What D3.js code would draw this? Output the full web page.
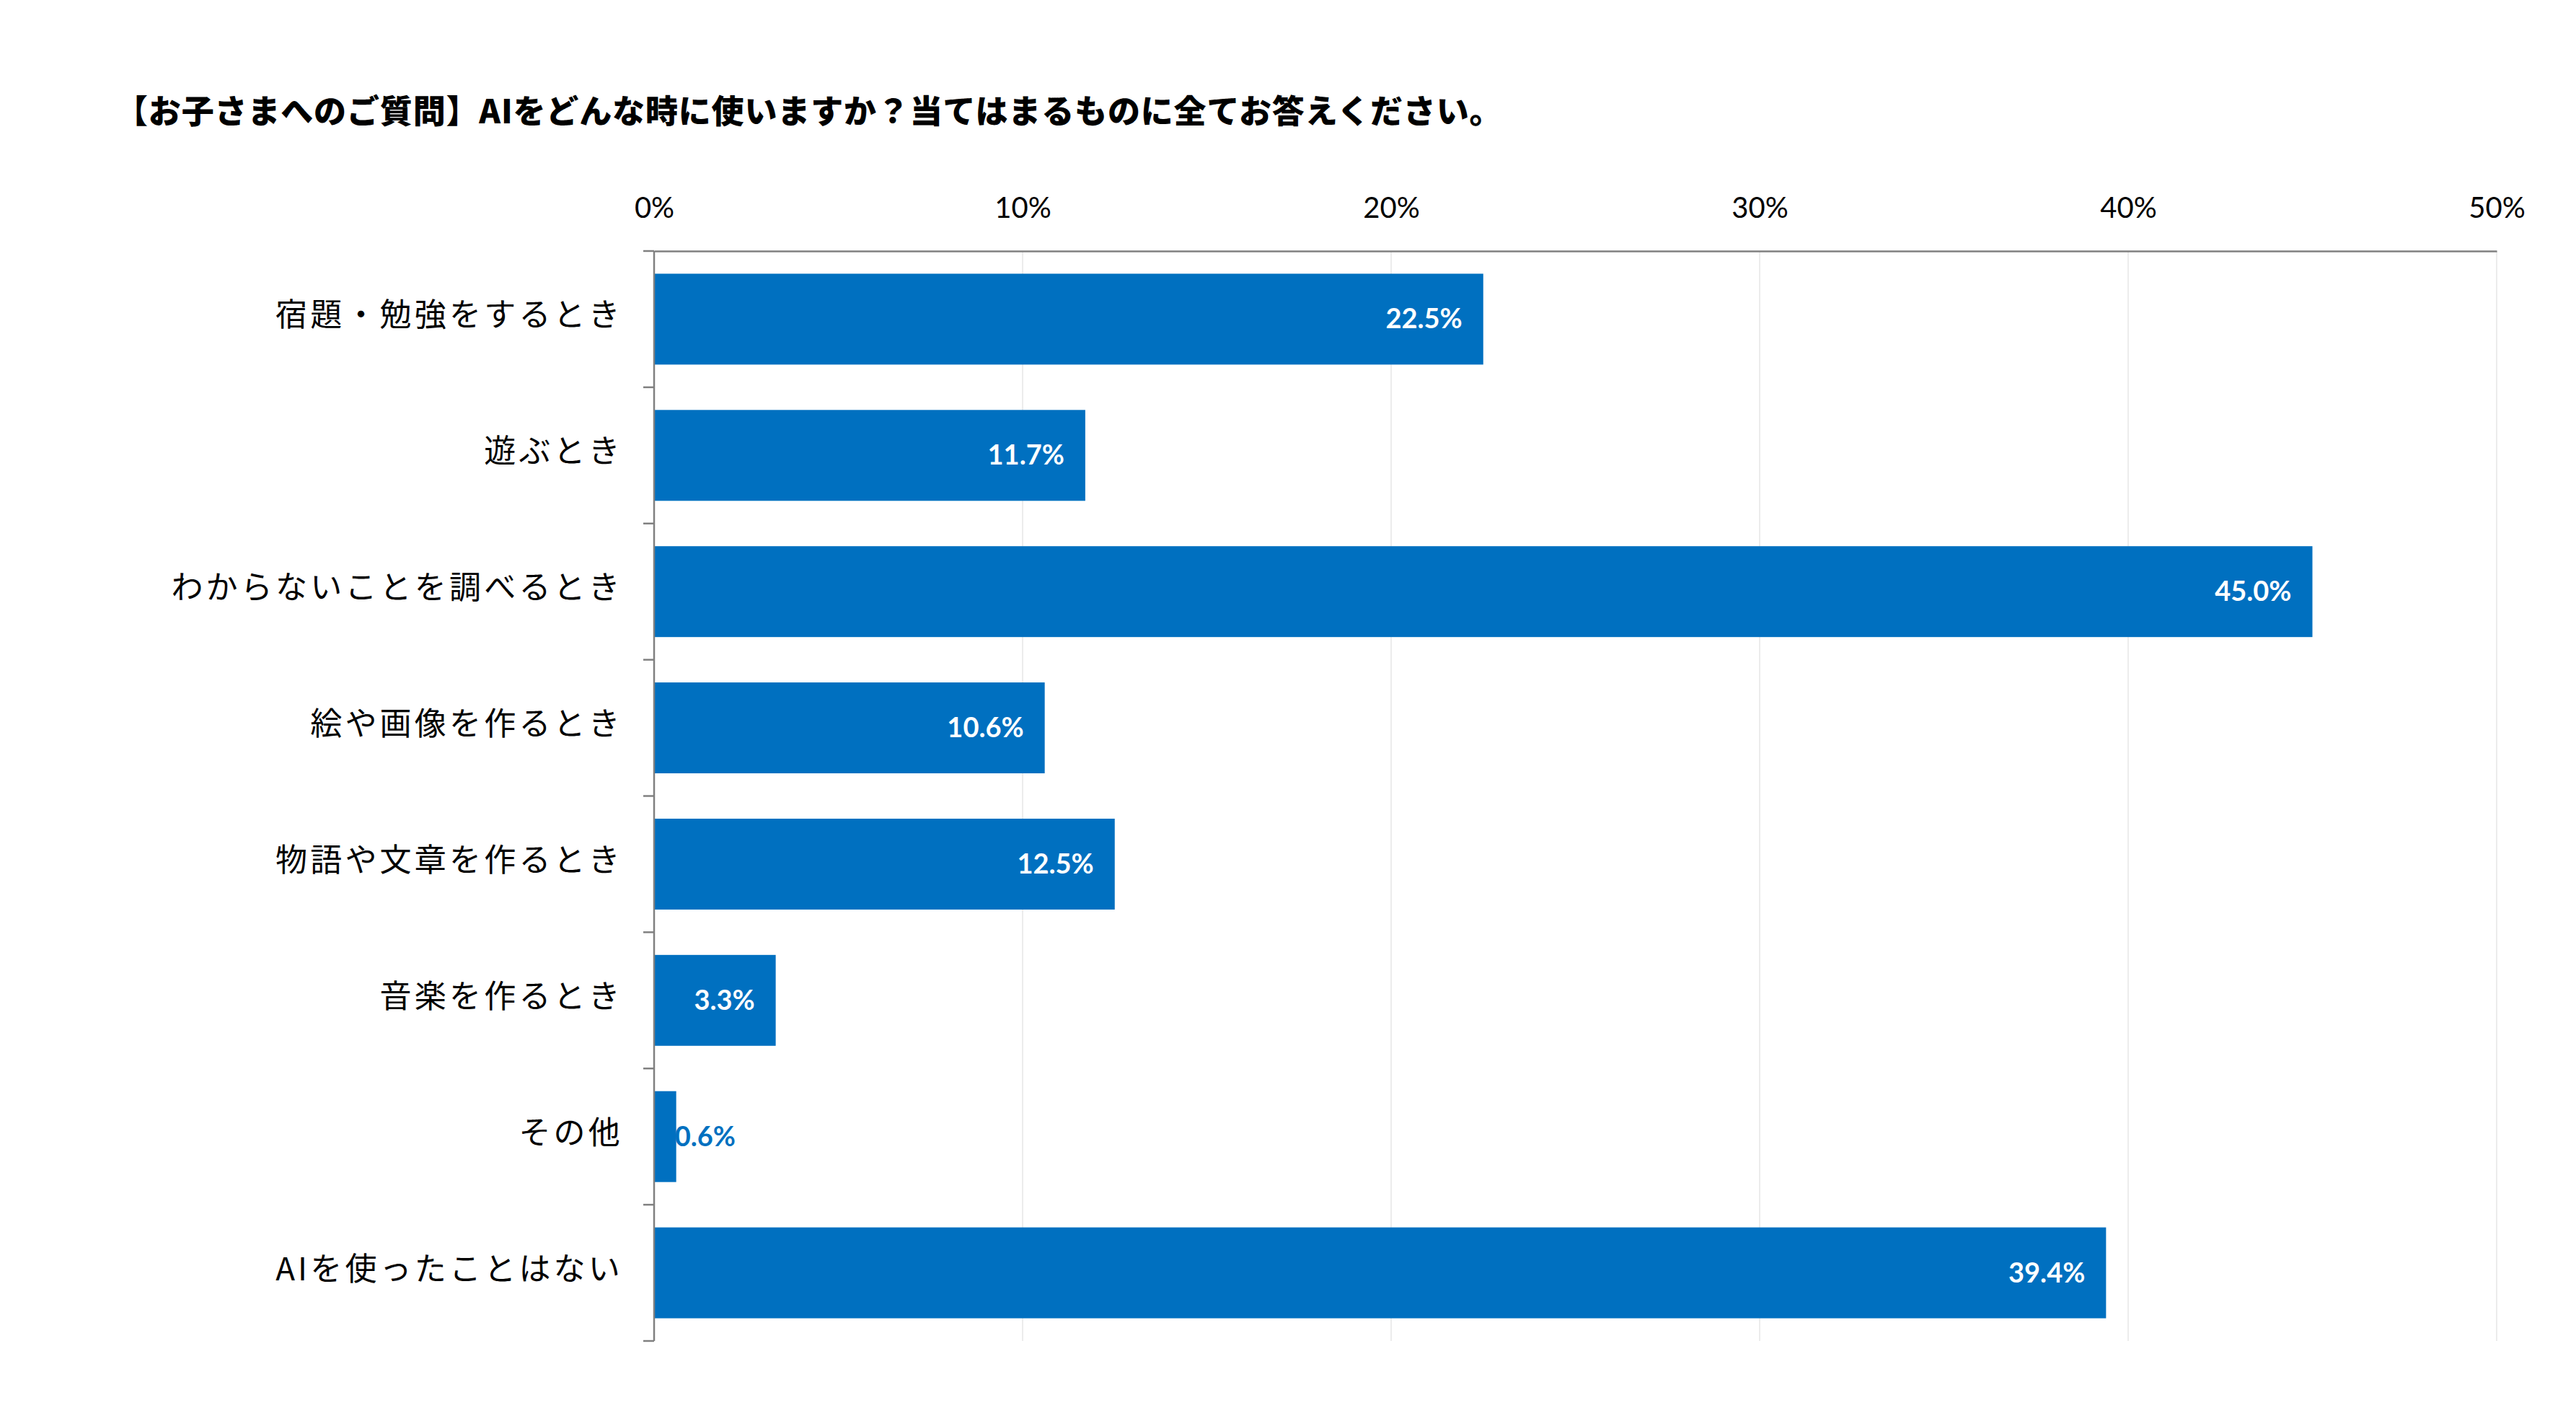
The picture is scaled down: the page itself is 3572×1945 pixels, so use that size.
<!DOCTYPE html>
<html>
<head>
<meta charset="utf-8">
<script src="https://cdn.jsdelivr.net/npm/d3@7"></script>
<style>
  body { margin: 0; background: #fff; }
  .cat text { font-family: "Noto Sans CJK JP", sans-serif; font-size: 44px; letter-spacing: 4.2px; fill: #000; }
  .xaxis text { font-family: Lato, "Open Sans", sans-serif; font-size: 40px; fill: #000; }
</style>
</head>
<body>
<div id="chart"></div>
<script>
// data
var title = "【お子さまへのご質問】AIをどんな時に使いますか？当てはまるものに全てお答えください。";
var categories = ["宿題・勉強をするとき", "遊ぶとき", "わからないことを調べるとき", "絵や画像を作るとき",
    "物語や文章を作るとき", "音楽を作るとき", "その他", "AIを使ったことはない"];
var values = [22.5, 11.7, 45.0, 10.6, 12.5, 3.3, 0.6, 39.4];
var xTicks = [0, 10, 20, 30, 40, 50];

var W = 3572, H = 1945;
var margin = { top: 348, right: 110, bottom: 86, left: 907 },
    width = W - margin.left - margin.right,
    height = H - margin.top - margin.bottom;

var svg = d3.select("#chart")
    .append("svg")
    .attr("width", W)
    .attr("height", H);

svg.append("text")
    .attr("x", 160)
    .attr("y", 151)
    .attr("dominant-baseline", "central")
    .style("font-family", "'Noto Sans CJK JP', sans-serif")
    .style("font-weight", 900)
    .style("font-size", "45px")
    .style("letter-spacing", "0.85px")
    .text(title);

var g = svg.append("g")
    .attr("transform", "translate(" + margin.left + "," + margin.top + ")");

var x = d3.scaleLinear().domain([0, 50]).range([0, width]);
var y = d3.scaleBand().domain(categories).range([0, height]).paddingInner(0.333).paddingOuter(0.1665);

// gridlines
g.selectAll(".grid")
    .data(xTicks.slice(1))
    .enter().append("line")
    .attr("class", "grid")
    .attr("x1", function (d) { return x(d); })
    .attr("x2", function (d) { return x(d); })
    .attr("y1", 0)
    .attr("y2", height)
    .style("stroke", "#ececec")
    .style("stroke-width", 2);

// bars
g.selectAll(".bar")
    .data(values)
    .enter().append("rect")
    .attr("class", "bar")
    .attr("x", 0)
    .attr("y", function (d, i) { return y(categories[i]); })
    .attr("width", function (d) { return x(d); })
    .attr("height", y.bandwidth())
    .style("fill", "#0070C0");

// value labels
g.selectAll(".val")
    .data(values)
    .enter().append("text")
    .attr("class", "val")
    .attr("x", function (d) { return x(d) < 100 ? x(d) - 2 : x(d) - 29; })
    .attr("y", function (d, i) { return y(categories[i]) + y.bandwidth() / 2 - 2; })
    .attr("dominant-baseline", "central")
    .attr("text-anchor", function (d) { return x(d) < 100 ? "start" : "end"; })
    .style("font-family", "Lato, sans-serif")
    .style("font-weight", 700)
    .style("font-size", "38px")
    .style("fill", function (d) { return x(d) < 100 ? "#0070C0" : "#fff"; })
    .text(function (d) { return d.toFixed(1) + "%"; });

// x axis on top
var xAxis = g.append("g")
    .attr("class", "xaxis")
    .call(d3.axisTop(x).tickValues(xTicks).tickSize(0).tickPadding(46).tickFormat(function (d) { return d + "%"; }));
xAxis.select(".domain").style("stroke", "#808080").style("stroke-width", 2.5);
xAxis.selectAll("text").attr("dy", "0.35em").attr("y", -60);

// y axis with ticks at band boundaries
var yAxis = g.append("g").attr("class", "cat");
yAxis.append("line")
    .attr("x1", 0).attr("x2", 0)
    .attr("y1", 0).attr("y2", height)
    .style("stroke", "#808080").style("stroke-width", 2.5);
var step = height / categories.length;
yAxis.selectAll(".ytick")
    .data(d3.range(categories.length + 1))
    .enter().append("line")
    .attr("class", "ytick")
    .attr("x1", -15).attr("x2", 0)
    .attr("y1", function (d) { return d * step; })
    .attr("y2", function (d) { return d * step; })
    .style("stroke", "#808080").style("stroke-width", 2.5);
yAxis.selectAll(".ylab")
    .data(categories)
    .enter().append("text")
    .attr("class", "ylab")
    .attr("x", -43)
    .attr("y", function (d) { return y(d) + y.bandwidth() / 2 - 9; })
    .attr("dominant-baseline", "central")
    .attr("text-anchor", "end")
    .text(function (d) { return d; });
</script>
</body>
</html>
